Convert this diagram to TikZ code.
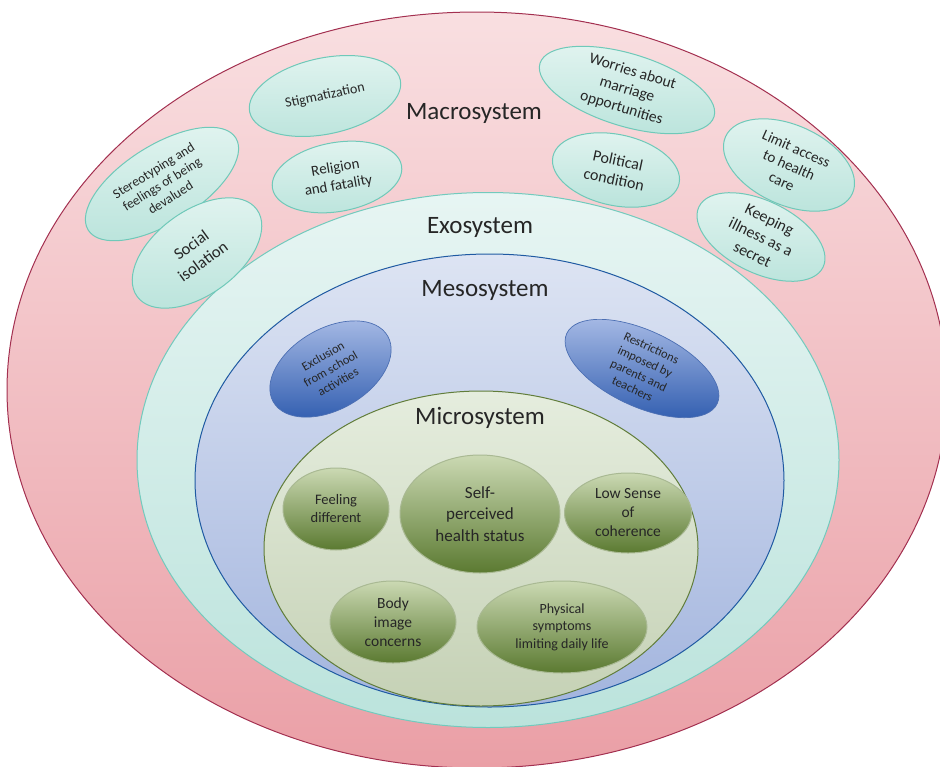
\documentclass[tikz,border=0pt]{standalone}
\usepackage{fontspec}
\setmainfont{Carlito}
\usetikzlibrary{shapes.geometric}

\begin{document}
\begin{tikzpicture}[x=1pt,y=-1pt,
    sys/.style={ellipse,inner sep=0pt,line width=1pt},
    title/.style={font=\fontsize{25}{30}\selectfont,text=txt},
    bub/.style={ellipse,inner sep=0pt,align=center,text=txt},
    macrobub/.style={bub,draw=tealln,line width=1pt,top color=teallt,bottom color=tealdk},
    mesobub/.style={bub,draw=blueln,line width=0.7pt,top color=bluelt,middle color=bluemd,bottom color=bluedk},
    microbub/.style={bub,draw=greenln,line width=1pt,top color=greenlt,middle color=greenmd,bottom color=greendk},
    fs/.style 2 args={font=\fontsize{#1}{#2}\selectfont}]

    \definecolor{txt}{HTML}{262626}
    \definecolor{pinktop}{HTML}{F9DFE1}
    \definecolor{pinkbot}{HTML}{EA9FA6}
    \definecolor{pinkln}{HTML}{A33050}
    \definecolor{exotop}{HTML}{E7F5F3}
    \definecolor{exobot}{HTML}{BBE3DC}
    \definecolor{exoln}{HTML}{72CABD}
    \definecolor{mesotop}{HTML}{DDE4F3}
    \definecolor{mesobot}{HTML}{A3B5DE}
    \definecolor{mesoln}{HTML}{1F5AA2}
    \definecolor{microtop}{HTML}{E5EDDE}
    \definecolor{microbot}{HTML}{C5D1B5}
    \definecolor{microln}{HTML}{617D3A}
    \definecolor{teallt}{HTML}{E2F4F0}
    \definecolor{tealdk}{HTML}{BBE4DC}
    \definecolor{tealln}{HTML}{6FC9B9}
    \definecolor{bluelt}{HTML}{A9BCE6}
    \definecolor{bluemd}{HTML}{6D8CD0}
    \definecolor{bluedk}{HTML}{2F5CAF}
    \definecolor{blueln}{HTML}{4C6FB3}
    \definecolor{greenlt}{HTML}{CBD9B3}
    \definecolor{greenmd}{HTML}{8CA56A}
    \definecolor{greendk}{HTML}{5B7A31}
    \definecolor{greenln}{HTML}{A9B993}

    \useasboundingbox (0,0) rectangle (940,766);
    \clip (0,0) rectangle (940,766);

    % nested systems
    \node[sys,draw=pinkln,top color=pinktop,bottom color=pinkbot,minimum width=940,minimum height=756] (macro) at (477,390) {};
    \node[sys,draw=exoln,top color=exotop,bottom color=exobot,minimum width=702,minimum height=535] (exo) at (488,460) {};
    \node[sys,draw=mesoln,top color=mesotop,bottom color=mesobot,minimum width=589,minimum height=453] (meso) at (489.5,480.5) {};
    \node[sys,draw=microln,top color=microtop,bottom color=microbot,minimum width=434,minimum height=315] (micro) at (481,548.5) {};

    \node[title] (macrolbl) at (474,113) {Macrosystem};
    \node[title] (exolbl) at (480,227) {Exosystem};
    \node[title] (mesolbl) at (485,290) {Mesosystem};
    \node[title] (microlbl) at (480,418) {Microsystem};

    % macrosystem
    \node[macrobub,fs={14}{17},minimum width=154,minimum height=76,rotate=12] (stigma) at (325,96) {Stigmatization};
    \node[macrobub,fs={13.5}{16},minimum width=174,minimum height=78,rotate=32] (stereo) at (162,184) {Stereotyping and\\feelings of being\\devalued};
    \node[macrobub,fs={15}{18},minimum width=131,minimum height=69,rotate=10] (religion) at (337,177) {Religion\\and fatality};
    \node[macrobub,fs={16.5}{20},minimum width=148,minimum height=84,rotate=36] (social) at (197,253) {Social\\isolation};
    \node[macrobub,fs={15.5}{19},minimum width=182,minimum height=72,rotate=-17] (worries) at (627,90) {Worries about\\marriage\\opportunities};
    \node[macrobub,fs={16}{19.5},minimum width=129,minimum height=71,rotate=-12] (political) at (616,170) {Political\\condition};
    \node[macrobub,fs={15}{18},minimum width=139,minimum height=80,rotate=-24] (access) at (789,165) {Limit access\\to health\\care};
    \node[macrobub,fs={16}{19.5},minimum width=138,minimum height=72,rotate=-26] (secret) at (761,237) {Keeping\\illness as a\\secret};

    % mesosystem
    \node[mesobub,fs={12.5}{15},minimum width=132,minimum height=81,rotate=30] (exclusion) at (330.5,369) {Exclusion\\from school\\activities};
    \node[mesobub,fs={12.5}{15},minimum width=166,minimum height=76,rotate=-25] (restrict) at (642,368.5) {Restrictions\\imposed by\\parents and\\teachers};

    % microsystem
    \node[microbub,fs={14.5}{18},minimum width=106,minimum height=82] (feeling) at (336,509) {Feeling\\different};
    \node[microbub,fs={17}{21.5},minimum width=160,minimum height=118] (self) at (480,514) {Self-\\perceived\\health status};
    \node[microbub,fs={15.5}{19},minimum width=127,minimum height=80] (coherence) at (628,513) {Low Sense\\of\\coherence};
    \node[microbub,fs={15.5}{19},minimum width=126,minimum height=82] (body) at (393,622) {Body\\image\\concerns};
    \node[microbub,fs={14}{17.5},minimum width=170,minimum height=92] (physical) at (562,627) {Physical\\symptoms\\limiting daily life};

\end{tikzpicture}
\end{document}
